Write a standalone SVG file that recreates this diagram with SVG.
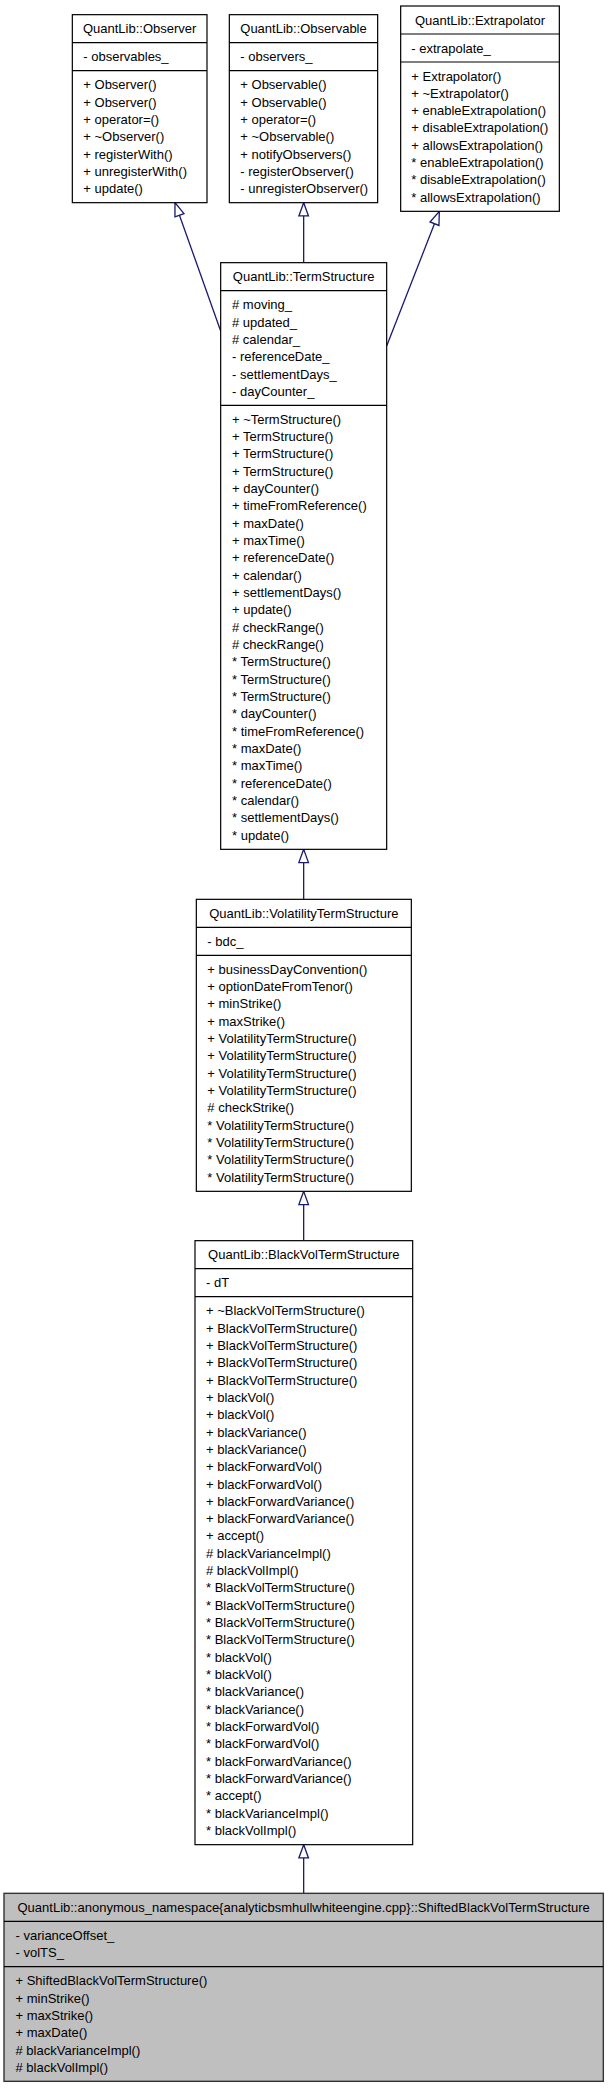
<svg xmlns="http://www.w3.org/2000/svg" width="608" height="2088" viewBox="0 0 608 2088">
<defs>
<style>
.box{fill:#ffffff;stroke:#000000;stroke-width:1.2}
.cur{fill:#bfbfbf;stroke:#333333;stroke-width:1.4}
.sep{stroke:#000000;stroke-width:1.2}
.t{font-family:"Liberation Sans",Arial,sans-serif;font-size:13px;fill:#000000}
.c{text-anchor:middle}
.edge{fill:none;stroke:#191970;stroke-width:1.3}
</style>
<marker id="inh" markerUnits="userSpaceOnUse" markerWidth="18" markerHeight="14" refX="15" refY="7" orient="auto" overflow="visible">
<path d="M15,7 L1.7,2.2 L1.7,11.8 Z" fill="#ffffff" stroke="#191970" stroke-width="1.3"/>
</marker>
</defs>
<rect width="608" height="2088" fill="#ffffff"/>

<g id="connectors">
<path class="edge" d="M220.67,331 L175,202.67" marker-end="url(#inh)"/>
<path class="edge" d="M303.67,262.67 L303.67,202.67" marker-end="url(#inh)"/>
<path class="edge" d="M386.67,346 L439.33,211.33" marker-end="url(#inh)"/>
<path class="edge" d="M303.67,899.33 L303.67,849.33" marker-end="url(#inh)"/>
<path class="edge" d="M303.67,1240.67 L303.67,1191.33" marker-end="url(#inh)"/>
<path class="edge" d="M303.67,1893.33 L303.67,1844.67" marker-end="url(#inh)"/>
</g>

<g id="observer">
<rect class="box" x="72.33" y="14.67" width="134.67" height="188"/>
<line class="sep" x1="72.33" y1="42.67" x2="207" y2="42.67"/>
<line class="sep" x1="72.33" y1="70.67" x2="207" y2="70.67"/>
<text class="t c" x="139.67" y="33.17">QuantLib::Observer</text>
<text class="t" x="83.33" y="61.17">- observables_</text>
<text class="t"><tspan x="83.33" y="89.17">+ Observer()</tspan><tspan x="83.33" dy="17.333">+ Observer()</tspan><tspan x="83.33" dy="17.333">+ operator=()</tspan><tspan x="83.33" dy="17.333">+ ~Observer()</tspan><tspan x="83.33" dy="17.333">+ registerWith()</tspan><tspan x="83.33" dy="17.333">+ unregisterWith()</tspan><tspan x="83.33" dy="17.333">+ update()</tspan></text>
</g>

<g id="observable">
<rect class="box" x="229.33" y="14.67" width="148.33" height="188"/>
<line class="sep" x1="229.33" y1="42.67" x2="377.67" y2="42.67"/>
<line class="sep" x1="229.33" y1="70.67" x2="377.67" y2="70.67"/>
<text class="t c" x="303.5" y="33.17">QuantLib::Observable</text>
<text class="t" x="240.33" y="61.17">- observers_</text>
<text class="t"><tspan x="240.33" y="89.17">+ Observable()</tspan><tspan x="240.33" dy="17.333">+ Observable()</tspan><tspan x="240.33" dy="17.333">+ operator=()</tspan><tspan x="240.33" dy="17.333">+ ~Observable()</tspan><tspan x="240.33" dy="17.333">+ notifyObservers()</tspan><tspan x="240.33" dy="17.333">- registerObserver()</tspan><tspan x="240.33" dy="17.333">- unregisterObserver()</tspan></text>
</g>

<g id="extrapolator">
<rect class="box" x="400.67" y="6" width="158.67" height="205.33"/>
<line class="sep" x1="400.67" y1="34" x2="559.33" y2="34"/>
<line class="sep" x1="400.67" y1="62" x2="559.33" y2="62"/>
<text class="t c" x="480" y="24.5">QuantLib::Extrapolator</text>
<text class="t" x="411.33" y="52.5">- extrapolate_</text>
<text class="t"><tspan x="411.33" y="80.5">+ Extrapolator()</tspan><tspan x="411.33" dy="17.333">+ ~Extrapolator()</tspan><tspan x="411.33" dy="17.333">+ enableExtrapolation()</tspan><tspan x="411.33" dy="17.333">+ disableExtrapolation()</tspan><tspan x="411.33" dy="17.333">+ allowsExtrapolation()</tspan><tspan x="411.33" dy="17.333">* enableExtrapolation()</tspan><tspan x="411.33" dy="17.333">* disableExtrapolation()</tspan><tspan x="411.33" dy="17.333">* allowsExtrapolation()</tspan></text>
</g>

<g id="termstructure">
<rect class="box" x="220.67" y="262.67" width="166" height="586.67"/>
<line class="sep" x1="220.67" y1="290.67" x2="386.67" y2="290.67"/>
<line class="sep" x1="220.67" y1="405.33" x2="386.67" y2="405.33"/>
<text class="t c" x="303.67" y="281.17">QuantLib::TermStructure</text>
<text class="t"><tspan x="232" y="309.17"># moving_</tspan><tspan x="232" dy="17.333"># updated_</tspan><tspan x="232" dy="17.333"># calendar_</tspan><tspan x="232" dy="17.333">- referenceDate_</tspan><tspan x="232" dy="17.333">- settlementDays_</tspan><tspan x="232" dy="17.333">- dayCounter_</tspan></text>
<text class="t"><tspan x="232" y="423.83">+ ~TermStructure()</tspan><tspan x="232" dy="17.333">+ TermStructure()</tspan><tspan x="232" dy="17.333">+ TermStructure()</tspan><tspan x="232" dy="17.333">+ TermStructure()</tspan><tspan x="232" dy="17.333">+ dayCounter()</tspan><tspan x="232" dy="17.333">+ timeFromReference()</tspan><tspan x="232" dy="17.333">+ maxDate()</tspan><tspan x="232" dy="17.333">+ maxTime()</tspan><tspan x="232" dy="17.333">+ referenceDate()</tspan><tspan x="232" dy="17.333">+ calendar()</tspan><tspan x="232" dy="17.333">+ settlementDays()</tspan><tspan x="232" dy="17.333">+ update()</tspan><tspan x="232" dy="17.333"># checkRange()</tspan><tspan x="232" dy="17.333"># checkRange()</tspan><tspan x="232" dy="17.333">* TermStructure()</tspan><tspan x="232" dy="17.333">* TermStructure()</tspan><tspan x="232" dy="17.333">* TermStructure()</tspan><tspan x="232" dy="17.333">* dayCounter()</tspan><tspan x="232" dy="17.333">* timeFromReference()</tspan><tspan x="232" dy="17.333">* maxDate()</tspan><tspan x="232" dy="17.333">* maxTime()</tspan><tspan x="232" dy="17.333">* referenceDate()</tspan><tspan x="232" dy="17.333">* calendar()</tspan><tspan x="232" dy="17.333">* settlementDays()</tspan><tspan x="232" dy="17.333">* update()</tspan></text>
</g>

<g id="volatilitytermstructure">
<rect class="box" x="196.33" y="899.33" width="215" height="292"/>
<line class="sep" x1="196.33" y1="927.33" x2="411.33" y2="927.33"/>
<line class="sep" x1="196.33" y1="955.33" x2="411.33" y2="955.33"/>
<text class="t c" x="303.83" y="917.83">QuantLib::VolatilityTermStructure</text>
<text class="t" x="207.33" y="945.83">- bdc_</text>
<text class="t"><tspan x="207.33" y="973.83">+ businessDayConvention()</tspan><tspan x="207.33" dy="17.333">+ optionDateFromTenor()</tspan><tspan x="207.33" dy="17.333">+ minStrike()</tspan><tspan x="207.33" dy="17.333">+ maxStrike()</tspan><tspan x="207.33" dy="17.333">+ VolatilityTermStructure()</tspan><tspan x="207.33" dy="17.333">+ VolatilityTermStructure()</tspan><tspan x="207.33" dy="17.333">+ VolatilityTermStructure()</tspan><tspan x="207.33" dy="17.333">+ VolatilityTermStructure()</tspan><tspan x="207.33" dy="17.333"># checkStrike()</tspan><tspan x="207.33" dy="17.333">* VolatilityTermStructure()</tspan><tspan x="207.33" dy="17.333">* VolatilityTermStructure()</tspan><tspan x="207.33" dy="17.333">* VolatilityTermStructure()</tspan><tspan x="207.33" dy="17.333">* VolatilityTermStructure()</tspan></text>
</g>

<g id="blackvoltermstructure">
<rect class="box" x="195" y="1240.67" width="217.67" height="604"/>
<line class="sep" x1="195" y1="1268.67" x2="412.67" y2="1268.67"/>
<line class="sep" x1="195" y1="1296.67" x2="412.67" y2="1296.67"/>
<text class="t c" x="303.83" y="1259.17">QuantLib::BlackVolTermStructure</text>
<text class="t" x="206" y="1287.17">- dT</text>
<text class="t"><tspan x="206" y="1315.17">+ ~BlackVolTermStructure()</tspan><tspan x="206" dy="17.333">+ BlackVolTermStructure()</tspan><tspan x="206" dy="17.333">+ BlackVolTermStructure()</tspan><tspan x="206" dy="17.333">+ BlackVolTermStructure()</tspan><tspan x="206" dy="17.333">+ BlackVolTermStructure()</tspan><tspan x="206" dy="17.333">+ blackVol()</tspan><tspan x="206" dy="17.333">+ blackVol()</tspan><tspan x="206" dy="17.333">+ blackVariance()</tspan><tspan x="206" dy="17.333">+ blackVariance()</tspan><tspan x="206" dy="17.333">+ blackForwardVol()</tspan><tspan x="206" dy="17.333">+ blackForwardVol()</tspan><tspan x="206" dy="17.333">+ blackForwardVariance()</tspan><tspan x="206" dy="17.333">+ blackForwardVariance()</tspan><tspan x="206" dy="17.333">+ accept()</tspan><tspan x="206" dy="17.333"># blackVarianceImpl()</tspan><tspan x="206" dy="17.333"># blackVolImpl()</tspan><tspan x="206" dy="17.333">* BlackVolTermStructure()</tspan><tspan x="206" dy="17.333">* BlackVolTermStructure()</tspan><tspan x="206" dy="17.333">* BlackVolTermStructure()</tspan><tspan x="206" dy="17.333">* BlackVolTermStructure()</tspan><tspan x="206" dy="17.333">* blackVol()</tspan><tspan x="206" dy="17.333">* blackVol()</tspan><tspan x="206" dy="17.333">* blackVariance()</tspan><tspan x="206" dy="17.333">* blackVariance()</tspan><tspan x="206" dy="17.333">* blackForwardVol()</tspan><tspan x="206" dy="17.333">* blackForwardVol()</tspan><tspan x="206" dy="17.333">* blackForwardVariance()</tspan><tspan x="206" dy="17.333">* blackForwardVariance()</tspan><tspan x="206" dy="17.333">* accept()</tspan><tspan x="206" dy="17.333">* blackVarianceImpl()</tspan><tspan x="206" dy="17.333">* blackVolImpl()</tspan></text>
</g>

<g id="shiftedblackvoltermstructure">
<rect class="cur" x="4" y="1893.33" width="599.33" height="188"/>
<line class="sep" x1="4" y1="1921.33" x2="603.33" y2="1921.33"/>
<line class="sep" x1="4" y1="1966.67" x2="603.33" y2="1966.67"/>
<text class="t c" x="303.67" y="1911.83">QuantLib::anonymous_namespace{analyticbsmhullwhiteengine.cpp}::ShiftedBlackVolTermStructure</text>
<text class="t"><tspan x="15.5" y="1939.83">- varianceOffset_</tspan><tspan x="15.5" dy="17.333">- volTS_</tspan></text>
<text class="t"><tspan x="15.5" y="1985.17">+ ShiftedBlackVolTermStructure()</tspan><tspan x="15.5" dy="17.333">+ minStrike()</tspan><tspan x="15.5" dy="17.333">+ maxStrike()</tspan><tspan x="15.5" dy="17.333">+ maxDate()</tspan><tspan x="15.5" dy="17.333"># blackVarianceImpl()</tspan><tspan x="15.5" dy="17.333"># blackVolImpl()</tspan></text>
</g>
</svg>
